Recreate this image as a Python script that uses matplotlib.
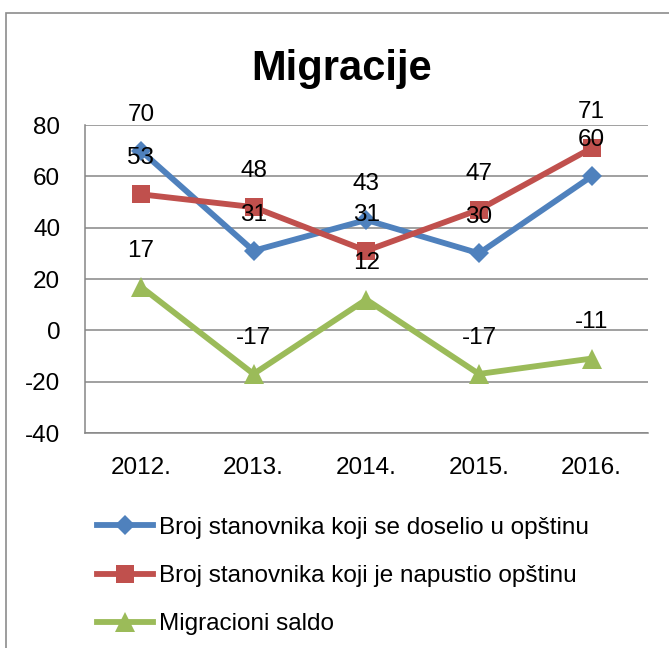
import matplotlib
matplotlib.use("Agg")
import matplotlib.pyplot as plt
from matplotlib.patches import Rectangle

years = ["2012.", "2013.", "2014.", "2015.", "2016."]
doselio = [70, 31, 43, 30, 60]
napustio = [53, 48, 31, 47, 71]
saldo = [17, -17, 12, -17, -11]
series_names = [
    "Broj stanovnika koji se doselio u opštinu",
    "Broj stanovnika koji je napustio opštinu",
    "Migracioni saldo",
]
y_ticks = [-40, -20, 0, 20, 40, 60, 80]

plt.rcParams["font.family"] = ["Liberation Sans", "DejaVu Sans"]
plt.rcParams["axes.unicode_minus"] = False

W, H = 669, 648
fig = plt.figure(figsize=(W / 100, H / 100), dpi=100, facecolor="white")

# outer chart border (extends past the right and bottom edges)
fig.patches.append(Rectangle((6.5 / W, -0.05), 1.0, 1 - 12.7 / H + 0.05,
                             transform=fig.transFigure, fill=False,
                             edgecolor="#8c8c8c", linewidth=1.2, clip_on=False))

ax = fig.add_axes([84.5 / W, 1 - 433 / H, (648 - 84.5) / W, (433 - 125) / H])
x = list(range(len(years)))

styles = [
    (doselio, "#4F81BD", "D", 10.5),
    (napustio, "#C0504D", "s", 13),
    (saldo, "#9BBB59", "^", 15),
]
lines = []
for (vals, color, marker, ms), name in zip(styles, series_names):
    ln, = ax.plot(x, vals, color=color, linewidth=4.2, marker=marker,
                  markersize=ms, markeredgewidth=0, label=name, clip_on=False)
    lines.append(ln)
    for xi, v in zip(x, vals):
        ax.annotate(str(v), (xi, v), xytext=(0, 26), textcoords="offset points",
                    ha="center", va="center", fontsize=17.5, color="black",
                    annotation_clip=False)

ax.set_xlim(-0.5, len(years) - 0.5)
ax.set_ylim(-40, 80)
ax.set_yticks(y_ticks)
ax.set_xticks(x)
ax.set_xticklabels(years)
ax.tick_params(axis="both", length=0, labelsize=17.5)
ax.tick_params(axis="y", pad=17.5)
ax.tick_params(axis="x", pad=17)
ax.grid(True, axis="y", color="#868686", linewidth=1.1)
ax.set_axisbelow(True)
for side in ["top", "right"]:
    ax.spines[side].set_visible(False)
for side in ["left", "bottom"]:
    ax.spines[side].set_color("#868686")
    ax.spines[side].set_linewidth(1.1)

fig.text(342 / W, 1 - 80 / H, "Migracije", ha="center", va="baseline",
         fontsize=30, fontweight="bold")

fig.legend(handles=lines, loc="center left", bbox_to_anchor=(97 / W, 1 - 576 / H),
           frameon=False, fontsize=17.5, handlelength=2.3, handletextpad=0.25,
           labelspacing=1.08, borderpad=0, borderaxespad=0)

fig.savefig("out.png", dpi=100, facecolor="white")
